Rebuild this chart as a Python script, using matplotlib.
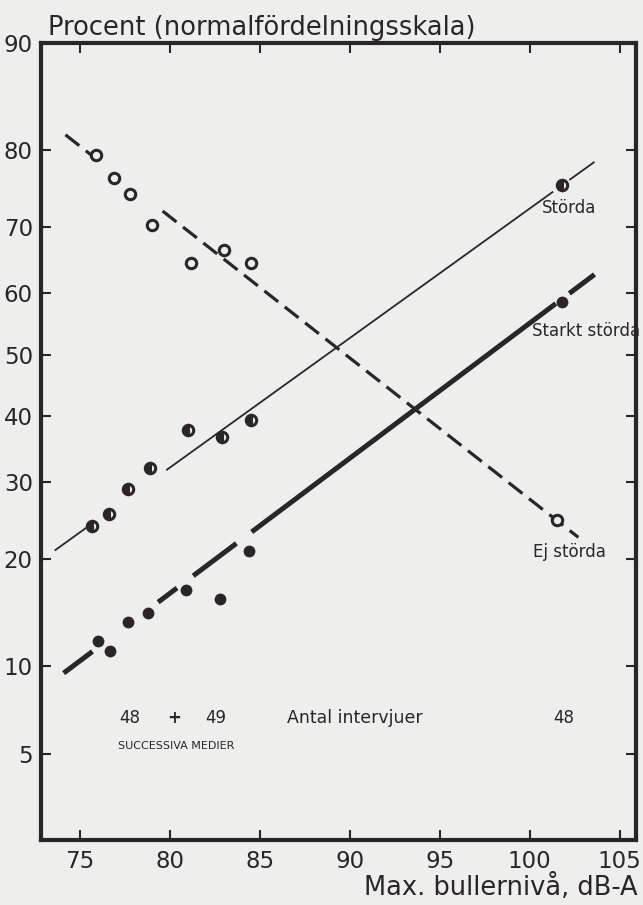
import numpy as np
import matplotlib
matplotlib.use("Agg")
import matplotlib.pyplot as plt
from statistics import NormalDist

ink = "#2b2527"
paper = "#eeeeec"

# --- data (x in dB-A, y in percent) ---
ej_x = [75.9, 76.9, 77.8, 79.0, 81.2, 83.0, 84.5, 101.5]
ej_p = [79.4, 76.6, 74.6, 70.3, 64.6, 66.7, 64.6, 24.8]

st_x = [75.7, 76.6, 77.7, 78.9, 81.0, 82.9, 84.5, 101.8]
st_p = [24.0, 25.6, 29.0, 32.1, 37.8, 36.7, 39.4, 75.7]

sk_x = [76.0, 76.7, 77.7, 78.8, 80.9, 82.8, 84.4, 101.8]
sk_p = [11.9, 11.1, 13.6, 14.4, 16.6, 15.7, 21.0, 58.6]

# fitted lines: end points and the pieces that are actually drawn
ej_line = [(74.2, 81.7), (102.7, 22.6)]
ej_pieces = [(74.2, 75.6), (79.6, 102.7)]
st_line = [(73.6, 21.0), (103.6, 78.6)]
st_pieces = [(73.6, 75.6), (79.8, 101.3), (102.2, 103.6)]
sk_line = [(74.1, 9.5), (103.6, 62.9)]
sk_pieces = [(74.1, 75.7), (79.35, 80.4), (81.3, 83.7), (84.55, 101.45), (102.2, 103.6)]

xticks = [75, 80, 85, 90, 95, 100, 105]
yticks = [5, 10, 20, 30, 40, 50, 60, 70, 80, 90]

# normal probability scale
nd = NormalDist()
_f = np.vectorize(lambda v: nd.inv_cdf(min(max(v, 1e-6), 100 - 1e-6) / 100.), otypes=[float])
_b = np.vectorize(lambda v: 100. * nd.cdf(v), otypes=[float])
def fwd(p):
    return _f(np.asarray(p, dtype=float))
def inv(z):
    return _b(np.asarray(z, dtype=float))

fig = plt.figure(figsize=(6.43, 9.05), dpi=100, facecolor=paper)
ax = fig.add_axes([0.064, 0.0718, 0.925, 0.8807], facecolor=paper)
ax.set_yscale("function", functions=(fwd, inv))
ax.set_xlim(72.85, 105.9)
ax.set_ylim(2.29, 90)


def draw_line(ends, pieces, **kw):
    (x0, p0), (x1, p1) = ends
    z0, z1 = fwd([p0, p1])
    for a, b in pieces:
        za, zb = np.interp([a, b], [x0, x1], [z0, z1])
        ax.plot([a, b], inv([za, zb]), color=ink, solid_capstyle="butt", **kw)


draw_line(ej_line, ej_pieces, lw=2.3, ls=(0, (5.5, 2.6)))
draw_line(st_line, st_pieces, lw=1.3)
draw_line(sk_line, sk_pieces, lw=3.6)

ax.plot(ej_x, ej_p, "o", ms=7.5, mfc=paper, mec=ink, mew=2.2, zorder=5)
ax.plot(st_x, st_p, "o", ms=7.5, mfc=ink, mec=ink, mew=2.2, fillstyle="left",
        markerfacecoloralt=paper, zorder=5)
ax.plot(sk_x, sk_p, "o", ms=8.5, mfc=ink, mec=ink, mew=0, zorder=5)

ax.text(102.2, 72.6, "Störda", ha="center", va="center", fontsize=12, color=ink)
ax.text(103.15, 53.9, "Starkt störda", ha="center", va="center", fontsize=12, color=ink)
ax.text(102.2, 20.8, "Ej störda", ha="center", va="center", fontsize=12, color=ink)
ax.text(77.8, 6.74, "48", ha="center", va="center", fontsize=12, color=ink)
ax.text(80.27, 6.74, "+", ha="center", va="center", fontsize=12, color=ink,
        fontweight="bold")
ax.text(82.57, 6.74, "49", ha="center", va="center", fontsize=12, color=ink)
ax.text(86.5, 6.74, "Antal intervjuer", ha="left", va="center", fontsize=12.5, color=ink)
ax.text(101.9, 6.74, "48", ha="center", va="center", fontsize=12, color=ink)
ax.text(80.34, 5.36, "SUCCESSIVA MEDIER", ha="center", va="center", fontsize=8, color=ink)

ax.set_xticks(xticks)
ax.set_xticklabels([str(t) for t in xticks])
ax.set_yticks(yticks)
ax.set_yticklabels([str(t) for t in yticks])
ax.yaxis.set_minor_locator(matplotlib.ticker.NullLocator())
ax.xaxis.set_minor_locator(matplotlib.ticker.NullLocator())
ax.tick_params(direction="in", length=7, width=1.5, color=ink, labelcolor=ink,
               labelsize=16.5, top=True, right=True, pad=7)
ax.tick_params(axis="y", pad=6)
for s in ax.spines.values():
    s.set_linewidth(3.0)
    s.set_color(ink)

fig.text(48 / 643, 1 - 35 / 905, "Procent (normalfördelningsskala)", fontsize=18.5,
         color=ink, va="baseline", ha="left")
fig.text(638 / 643, 1 - 895 / 905, "Max. bullernivå, dB-A", fontsize=18.5,
         color=ink, va="baseline", ha="right")

fig.savefig("out.png", dpi=100, facecolor=paper)
